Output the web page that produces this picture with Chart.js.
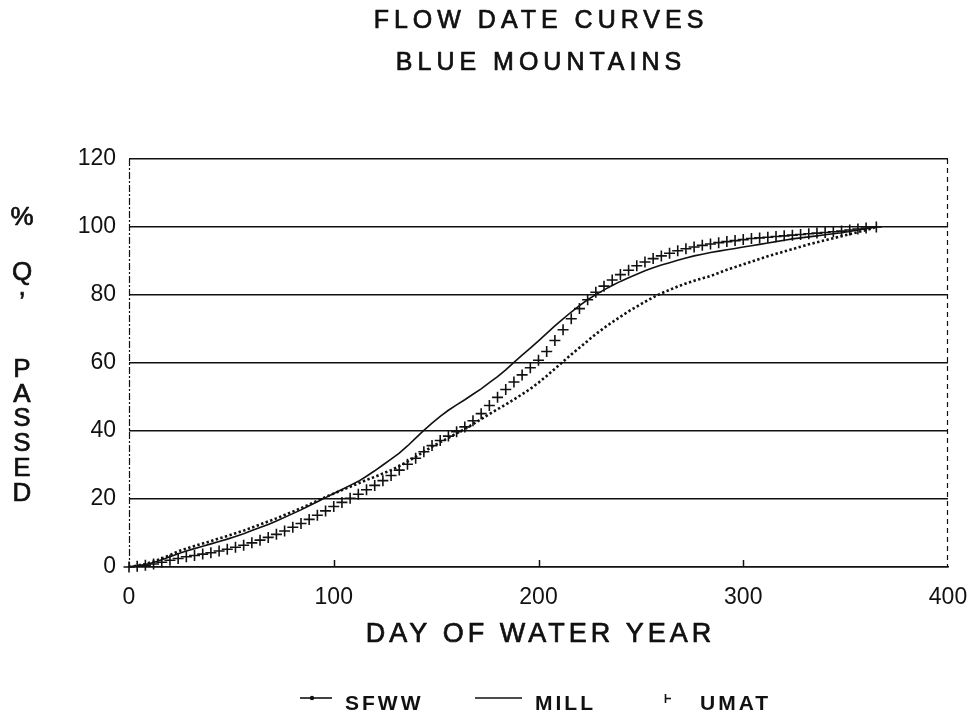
<!DOCTYPE html>
<html>
<head>
<meta charset="utf-8">
<script src="https://cdn.jsdelivr.net/npm/chart.js@4.4.1/dist/chart.umd.min.js"></script>
<style>
html,body{margin:0;padding:0;background:#fff;}
#wrap{width:976px;height:714px;position:relative;}
</style>
</head>
<body>
<div id="wrap"><canvas id="c" width="976" height="714"></canvas></div>
<script>
// ---- data ----
const days = [
  0,4,8,12,16,20,24,28,32,36,
  40,44,48,52,56,60,64,68,72,76,
  80,84,88,92,96,100,104,108,112,116,
  120,124,128,132,136,140,144,148,152,156,
  160,164,168,172,176,180,184,188,192,196,
  200,204,208,212,216,220,224,228,232,236,
  240,244,248,252,256,260,264,268,272,276,
  280,284,288,292,296,300,304,308,312,316,
  320,324,328,332,336,340,344,348,352,356,
  360,365
];
const sfww = [
  0,0.4,0.9,1.6,2.5,3.5,4.6,5.4,6.2,6.9,
  7.6,8.4,9.1,9.9,10.7,11.6,12.5,13.4,14.3,15.3,
  16.3,17.3,18.4,19.5,20.6,21.6,22.6,23.6,24.6,25.6,
  26.5,27.5,28.5,29.7,31.0,32.4,33.9,35.4,36.7,38.0,
  39.3,40.6,42.0,43.5,45.0,46.4,47.8,49.3,50.8,52.4,
  54.2,56.2,58.3,60.4,62.5,64.5,66.5,68.5,70.3,72.0,
  73.6,75.2,76.6,78.0,79.3,80.5,81.5,82.5,83.4,84.2,
  84.9,85.6,86.5,87.4,88.2,89.0,89.8,90.6,91.4,92.1,
  92.8,93.5,94.2,94.9,95.5,96.1,96.7,97.3,97.9,98.5,
  99.1,100
];
const mill = [
  0,0.3,0.7,1.3,2.1,3.0,3.9,4.7,5.4,6.1,
  6.8,7.5,8.2,9.0,9.8,10.7,11.6,12.5,13.5,14.6,
  15.7,16.8,18.0,19.2,20.4,21.6,22.8,24.0,25.2,26.7,
  28.3,30.0,31.7,33.5,35.6,37.9,40.2,42.3,44.3,46.1,
  47.7,49.2,50.8,52.4,54.2,56.0,58.0,60.2,62.3,64.4,
  66.5,68.7,70.9,73.0,75.0,76.9,78.6,80.1,81.5,82.8,
  84.0,85.1,86.1,87.1,88.0,88.8,89.5,90.2,90.9,91.5,
  92.0,92.5,92.9,93.3,93.7,94.1,94.5,94.9,95.3,95.7,
  96.1,96.5,96.8,97.1,97.4,97.7,98.0,98.3,98.7,99.1,
  99.5,100
];
const umat = [
  0,0.2,0.5,0.9,1.4,2.0,2.5,3.0,3.4,3.8,
  4.2,4.7,5.2,5.8,6.4,7.1,7.9,8.7,9.6,10.6,
  11.7,12.8,14.0,15.2,16.5,17.8,19.0,20.2,21.4,22.7,
  24.0,25.4,26.9,28.5,30.2,32.0,33.9,35.7,37.2,38.5,
  39.8,41.2,43.0,45.1,47.5,49.9,52.2,54.4,56.5,58.6,
  60.8,63.4,66.6,69.8,73.0,76.0,78.6,80.8,82.6,84.4,
  86.0,87.3,88.6,89.7,90.7,91.5,92.3,93.0,93.6,94.1,
  94.6,95.0,95.4,95.7,96.0,96.3,96.6,96.8,97.0,97.2,
  97.4,97.6,97.8,98.0,98.2,98.4,98.6,98.8,99.1,99.4,
  99.7,100
];
const xTicks = [0,100,200,300,400];
const yTicks = [0,20,40,60,80,100,120];
const seriesNames = ["SFWW","MILL","UMAT"];
const titleLines = ["FLOW DATE CURVES","BLUE MOUNTAINS"];
const xTitle = "DAY OF WATER YEAR";
const yTitleChars = ["%","Q",",","P","A","S","S","E","D"];

// ---- styling / layout ----
const INK = '#111';
const FONT = '"Liberation Sans", Arial, Helvetica, sans-serif';
const yLabelBaselines = [225,280,295,377,402,426,451,476,501];
const legendLayout = [
  {sym:'dotline', x0:300, x1:332, tx:345},
  {sym:'line', x0:475, x1:522, tx:535},
  {sym:'plus', x0:665, x1:671, tx:700}
];

function pts(arr){ return days.map((d,i)=>({x:d, y:arr[i]})); }

function heavyText(ctx, t, x, y){
  ctx.fillText(t, x, y);
  ctx.strokeText(t, x, y);
}

const decor = {
  id:'decor',
  afterDraw(chart){
    const {ctx, chartArea:a, scales} = chart;
    const xs = scales.x;
    ctx.save();
    ctx.strokeStyle = INK; ctx.fillStyle = INK;
    // left dash-dot axis line
    ctx.lineWidth = 1.2;
    ctx.setLineDash([7,2,2,2]);
    ctx.beginPath(); ctx.moveTo(a.left+0.5, a.top); ctx.lineTo(a.left+0.5, a.bottom); ctx.stroke();
    // right dashed frame line
    ctx.setLineDash([5,4]);
    ctx.beginPath(); ctx.moveTo(a.right-0.5, a.top); ctx.lineTo(a.right-0.5, a.bottom); ctx.stroke();
    ctx.setLineDash([]);
    // inward x tick marks
    ctx.lineWidth = 1.5;
    xTicks.forEach(v=>{
      if (v===xs.min || v===xs.max) return;
      const px = Math.round(xs.getPixelForValue(v))+0.5;
      ctx.beginPath(); ctx.moveTo(px, a.bottom); ctx.lineTo(px, a.bottom-7); ctx.stroke();
    });
    const cx = (a.left + a.right)/2;
    // chart title
    ctx.lineWidth = 0.7;
    ctx.lineJoin = 'round';
    ctx.textAlign = 'center'; ctx.textBaseline = 'alphabetic';
    ctx.font = '25px ' + FONT;
    ctx.letterSpacing = '5px';
    heavyText(ctx, titleLines[0], cx+2.5, 28);
    heavyText(ctx, titleLines[1], cx+2.5, 70);
    // x axis title
    ctx.font = '27px ' + FONT;
    ctx.letterSpacing = '4px';
    heavyText(ctx, xTitle, cx+2, 642);
    // y axis title (stacked letters)
    ctx.font = '26px ' + FONT;
    ctx.letterSpacing = '0px';
    yTitleChars.forEach((ch,i)=> heavyText(ctx, ch, 22, yLabelBaselines[i]));
    // legend
    const ly = 698;
    ctx.lineWidth = 1.6;
    legendLayout.forEach((L,i)=>{
      if (L.sym==='dotline' || L.sym==='line'){
        ctx.beginPath(); ctx.moveTo(L.x0, ly); ctx.lineTo(L.x1, ly); ctx.stroke();
        if (L.sym==='dotline'){ ctx.beginPath(); ctx.arc(312, ly, 2.2, 0, Math.PI*2); ctx.fill(); }
      } else {
        ctx.beginPath(); ctx.moveTo(L.x0+0.5, ly-4); ctx.lineTo(L.x0+0.5, ly+5); ctx.stroke();
        ctx.beginPath(); ctx.moveTo(L.x0, ly+0.5); ctx.lineTo(L.x1, ly+0.5); ctx.stroke();
      }
      ctx.textAlign = 'left';
      ctx.font = 'bold 21px ' + FONT;
      ctx.letterSpacing = '3px';
      ctx.fillText(seriesNames[i], L.tx, 710);
    });
    ctx.restore();
  }
};

new Chart(document.getElementById('c'), {
  type:'line',
  data:{
    datasets:[
      {label:seriesNames[0], data:pts(sfww), borderColor:INK, borderWidth:2.6,
       borderDash:[2.4,2.4], pointRadius:0, fill:false, tension:0},
      {label:seriesNames[1], data:pts(mill), borderColor:INK, borderWidth:1.6,
       pointRadius:0, fill:false, tension:0},
      {label:seriesNames[2], data:pts(umat), showLine:false, pointStyle:'cross',
       pointRadius:5.5, pointBorderWidth:1.6, pointBorderColor:INK, pointBackgroundColor:INK,
       borderColor:INK, clip:false}
    ]
  },
  options:{
    responsive:false,
    animation:false,
    events:[],
    layout:{padding:{top:159, right:28, bottom:97, left:0}},
    plugins:{legend:{display:false}, title:{display:false}, tooltip:{enabled:false}},
    scales:{
      x:{
        type:'linear', min:0, max:400,
        afterBuildTicks:(s)=>{ s.ticks = xTicks.map(v=>({value:v})); },
        ticks:{color:INK, font:{family:FONT, size:23}, padding:17, maxRotation:0, autoSkip:false},
        grid:{display:false, drawTicks:false},
        border:{display:true, color:INK, width:1.6},
        afterFit:(s)=>{ s.height = 50; s.paddingLeft = 0; s.paddingRight = 0; }
      },
      y:{
        type:'linear', min:0, max:120,
        afterBuildTicks:(s)=>{ s.ticks = yTicks.map(v=>({value:v})); },
        ticks:{color:INK, font:{family:FONT, size:23}, padding:13},
        grid:{display:true, color:INK, lineWidth:1.5, drawTicks:false},
        border:{display:false},
        afterFit:(s)=>{ s.width = 129; s.paddingTop = 0; s.paddingBottom = 0; }
      }
    }
  },
  plugins:[decor]
});
</script>
</body>
</html>
